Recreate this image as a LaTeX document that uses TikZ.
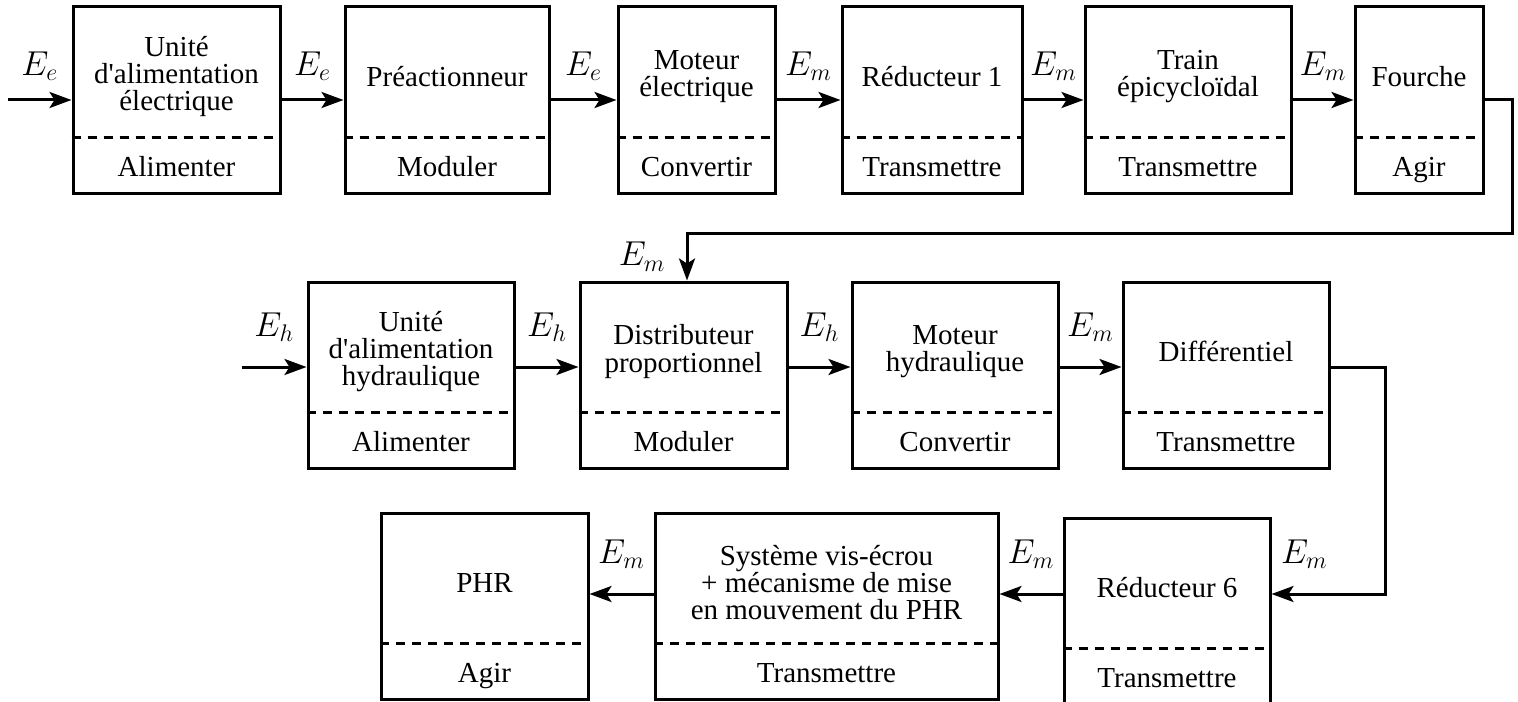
\documentclass[tikz,border=0pt]{standalone}
\usepackage{fontspec}
\setmainfont{Liberation Serif}
\usetikzlibrary{arrows.meta}

\tikzset{
  bloc/.style={draw, line width=1.5pt, minimum height=93pt, inner sep=0pt},
  sep/.style={line width=1.5pt, dash pattern=on 4.5pt off 3.5pt},
  fct/.style={align=center, inner sep=0pt, font=\fontsize{14.5}{13.6}\selectfont},
  fl/.style={line width=1.5pt, -{Stealth[length=11pt, width=8pt, inset=2.5pt]}},
  lab/.style={above=#1, inner sep=0pt, font=\fontsize{18}{18}\selectfont},
  lab/.default=9pt,
}

\begin{document}
\begin{tikzpicture}[x=0.5pt, y=-0.5pt]
    \useasboundingbox (0,0) rectangle (1518,701);
    % blocs : nom / x / y / largeur / composant / fonction
    \foreach \n/\x/\y/\w/\haut/\bas in {
      b1/176.5/100/207/{Unité\\d\textquotesingle alimentation\\électrique}/Alimenter,
      b2/447/100/204/Préactionneur/Moduler,
      b3/696.5/100/157/{Moteur\\électrique}/Convertir,
      b4/932/100/180/Réducteur 1/Transmettre,
      b5/1188/100/206/{Train\\épicycloïdal}/Transmettre,
      b6/1419/100/128/Fourche/Agir,
      c1/411/375/206/{Unité\\d\textquotesingle alimentation\\hydraulique}/Alimenter,
      c2/683.5/375/207/{Distributeur\\proportionnel}/Moduler,
      c3/955/375/206/{Moteur\\hydraulique}/Convertir,
      c4/1226/375/206/Différentiel/Transmettre,
      d1/484.5/606/207/PHR/Agir,
      d2/826.5/606/343/{Système vis-écrou\\+ mécanisme de mise\\en mouvement du PHR}/Transmettre,
      d3/1167/611/206/Réducteur 6/Transmettre} {
      \node[bloc, minimum width=\w*0.5pt] (\n) at (\x,\y) {};
      \draw[sep] ([yshift=28.5pt]\n.south west) -- ([yshift=28.5pt]\n.south east);
      \node[fct] (\n-c) at ([yshift=-35.5pt]\n.north) {\haut};
      \node[fct, anchor=base] (\n-f) at ([yshift=9pt]\n.south) {\bas};
    }

    % chaine d'energie electrique
    \coordinate (inE) at (8,100);
    \coordinate (ret1) at (1512,233);
    \draw[fl] (inE) -- (b1.west) node[lab, midway] {$E_e$};
    \draw[fl] (b1.east) -- (b2.west) node[lab, midway] {$E_e$};
    \draw[fl] (b2.east) -- (b3.west) node[lab, midway] {$E_e$};
    \draw[fl] (b3.east) -- (b4.west) node[lab, midway] {$E_m$};
    \draw[fl] (b4.east) -- (b5.west) node[lab, midway] {$E_m$};
    \draw[fl] (b5.east) -- (b6.west) node[lab, midway] {$E_m$};
    \draw[fl] (b6.east) -| (ret1) -| ([xshift=1.75pt]c2.north)
      node[pos=0.75, left=10pt, inner sep=0pt, font=\fontsize{18}{18}\selectfont] {$E_m$};

    % chaine d'energie hydraulique
    \coordinate (inH) at (242,367);
    \coordinate (ret2) at (1385,594);
    \draw[fl] (inH) -- (c1.west |- inH) node[lab=12pt, midway] {$E_h$};
    \draw[fl] (c1.east |- inH) -- (c2.west |- inH) node[lab=12pt, midway] {$E_h$};
    \draw[fl] (c2.east |- inH) -- (c3.west |- inH) node[lab=12pt, midway] {$E_h$};
    \draw[fl] (c3.east |- inH) -- (c4.west |- inH) node[lab=12pt, midway] {$E_m$};
    \draw[fl] (c4.east |- inH) -| (ret2) -- (d3.east |- ret2)
      node[lab=12pt, pos=0.71] {$E_m$};
    \draw[fl] (d3.west |- ret2) -- (d2.east |- ret2) node[lab=12pt, midway] {$E_m$};
    \draw[fl] (d2.west |- ret2) -- (d1.east |- ret2) node[lab=12pt, midway] {$E_m$};
  \end{tikzpicture}
\end{document}
